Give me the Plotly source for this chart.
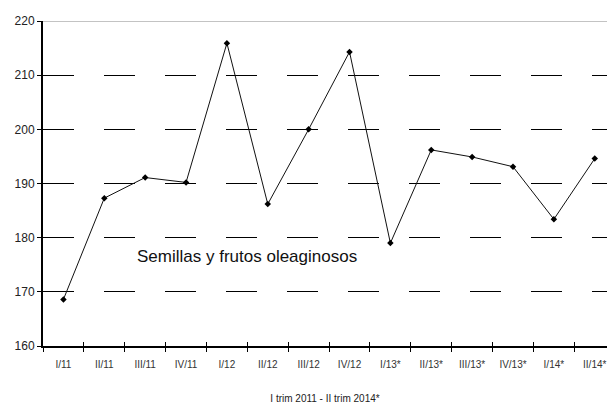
import plotly.graph_objects as go

categories = ["I/11", "II/11", "III/11", "IV/11", "I/12", "II/12", "III/12", "IV/12",
              "I/13*", "II/13*", "III/13*", "IV/13*", "I/14*", "II/14*"]
values = [168.6, 187.3, 191.1, 190.2, 215.9, 186.2, 200.0, 214.3,
          179.0, 196.2, 194.9, 193.1, 183.4, 194.6]
y_ticks = [160, 170, 180, 190, 200, 210, 220]
series_label = "Semillas y frutos oleaginosos"
x_title = "I trim 2011 - II trim 2014*"

fig = go.Figure()
# invisible helper trace so the inner tick axis knows the categories
fig.add_trace(go.Scatter(
    x=categories, y=values, xaxis="x2", mode="lines",
    line=dict(width=0), opacity=0, hoverinfo="skip", showlegend=False,
))
fig.add_trace(go.Scatter(
    x=categories, y=values, mode="lines+markers",
    line=dict(color="#111111", width=1),
    marker=dict(symbol="diamond", size=5, color="#000000"),
    showlegend=False, cliponaxis=False,
))

fig.add_shape(type="line", xref="paper", yref="y", x0=0, x1=1, y0=220, y1=220,
              line=dict(color="#888888", width=1), layer="below")

fig.add_annotation(x=1.74, y=176.6, xref="x", yref="y", text=series_label,
                   showarrow=False, xanchor="left", yanchor="middle",
                   font=dict(family="Liberation Sans, Arial", size=17, color="#111111"))

fig.update_layout(
    width=607, height=407,
    margin=dict(l=43, r=0, t=21, b=61, autoexpand=False),
    paper_bgcolor="white", plot_bgcolor="white",
    font=dict(family="Liberation Sans, Arial", color="#222222"),
    xaxis=dict(
        type="category", range=[-0.5, 13.3], automargin=False,
        categoryorder="array", categoryarray=categories,
        tickson="boundaries", ticks="outside", ticklen=4, tickwidth=1, tickcolor="#000000",
        showgrid=False, showline=True, linecolor="#000000", linewidth=2,
        tickfont=dict(size=10, color="#333333"), ticklabelstandoff=8,
        title=dict(text=x_title, font=dict(size=10, color="#222222"), standoff=26),
    ),
    xaxis2=dict(
        type="category", range=[-0.5, 13.3], automargin=False, overlaying="x",
        side="bottom", anchor="y",
        categoryorder="array", categoryarray=categories,
        tickson="boundaries", ticks="inside", ticklen=4, tickwidth=1, tickcolor="#000000",
        showgrid=False, showline=False, showticklabels=False,
    ),
    yaxis=dict(
        range=[160, 220], tickvals=y_ticks, automargin=False,
        ticks="outside", ticklen=4, tickwidth=1, tickcolor="#000000",
        showline=True, linecolor="#000000", linewidth=2,
        showgrid=True, gridcolor="#000000", gridwidth=1, griddash="31px,30px",
        zeroline=False,
        tickfont=dict(size=12, color="#222222"),
    ),
)

fig.write_html("out.html", config={"displayModeBar": False},
               post_script="document.body.style.margin='0';document.body.style.overflow='hidden';")
